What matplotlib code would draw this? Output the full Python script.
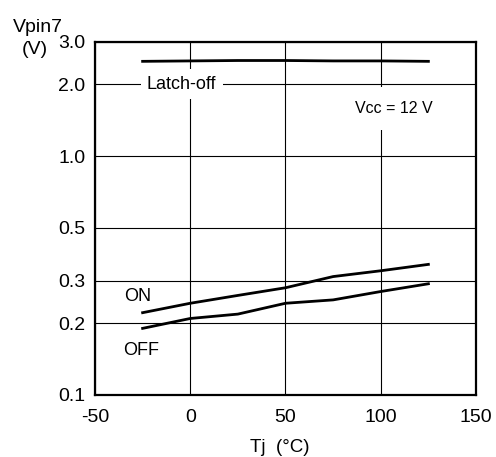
import matplotlib
matplotlib.use("Agg")
import matplotlib.pyplot as plt
from matplotlib.ticker import FixedLocator, FixedFormatter, NullLocator

plt.rcParams['font.family'] = ['Liberation Sans', 'DejaVu Sans']
plt.rcParams['axes.unicode_minus'] = False

# values
tj = [-25, 0, 25, 50, 75, 100, 125]
latch_off = [2.49, 2.50, 2.51, 2.51, 2.50, 2.50, 2.49]
v_on = [0.221, 0.242, 0.261, 0.281, 0.313, 0.331, 0.352]
v_off = [0.190, 0.209, 0.218, 0.242, 0.250, 0.271, 0.292]

yticks = [0.1, 0.2, 0.3, 0.5, 1.0, 2.0, 3.0]
ytick_labels = ['0.1', '0.2', '0.3', '0.5', '1.0', '2.0', '3.0']
xticks = [-50, 0, 50, 100, 150]
xtick_labels = ['-50', '0', '50', '100', '150']

fig = plt.figure(figsize=(4.96, 4.57), dpi=100)
ax = fig.add_axes([0.1915, 0.1357, 0.7682, 0.7724])

ax.set_yscale('log')
ax.set_xlim(-50, 150)
ax.set_ylim(0.1, 3.0)

ax.yaxis.set_major_locator(FixedLocator(yticks))
ax.yaxis.set_major_formatter(FixedFormatter(ytick_labels))
ax.yaxis.set_minor_locator(NullLocator())
ax.set_xticks(xticks)
ax.set_xticklabels(xtick_labels)

ax.grid(True, color='black', linewidth=0.8, zorder=1)
ax.tick_params(axis='both', length=0, labelsize=14)
ax.tick_params(axis='y', pad=7)
ax.tick_params(axis='x', pad=10)
for s in ax.spines.values():
    s.set_linewidth(1.6)

ax.plot(tj, latch_off, color='black', linewidth=2.0, zorder=3)
ax.plot(tj, v_on, color='black', linewidth=2.0, zorder=3)
ax.plot(tj, v_off, color='black', linewidth=2.0, zorder=3)

ax.text(-4.5, 2.0, 'Latch-off', fontsize=13, ha='center', va='center',
        bbox=dict(boxstyle='square,pad=0.35', fc='white', ec='none'), zorder=2)
ax.text(107, 1.58, 'Vcc = 12 V', fontsize=11.5, ha='center', va='center',
        bbox=dict(boxstyle='square,pad=0.9', fc='white', ec='none'), zorder=2)
ax.text(-27.5, 0.259, 'ON', fontsize=13, ha='center', va='center', zorder=2)
ax.text(-26, 0.154, 'OFF', fontsize=13, ha='center', va='center', zorder=2)

fig.text(38 / 496, 1 - 28 / 457, 'Vpin7', fontsize=14, ha='center', va='center')
fig.text(35 / 496, 1 - 50 / 457, '(V)', fontsize=14, ha='center', va='center')
fig.text(280 / 496, 1 - 447 / 457, 'Tj  (°C)', fontsize=13.5, ha='center', va='center')

fig.savefig('out.png', dpi=100)
